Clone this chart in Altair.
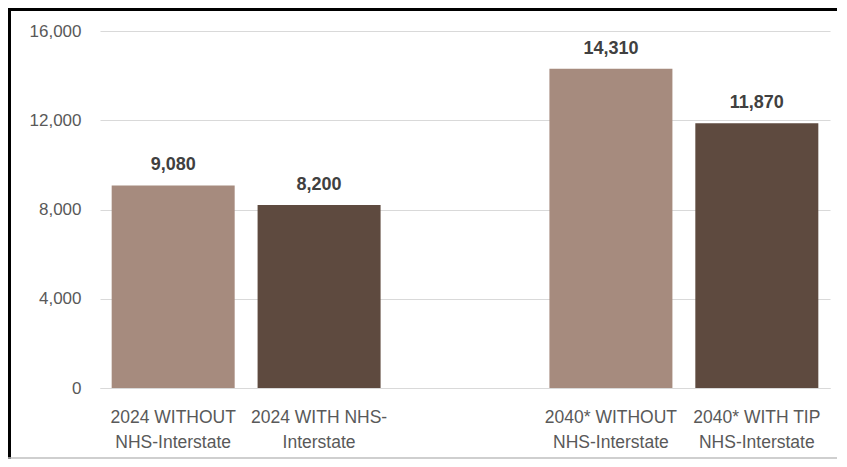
import altair as alt
import pandas as pd

categories = ["2024 WITHOUT|NHS-Interstate", "2024 WITH NHS-|Interstate",
              "2040* WITHOUT|NHS-Interstate", "2040* WITH TIP|NHS-Interstate"]
values = [9080, 8200, 14310, 11870]
shades = ["light", "dark", "light", "dark"]
x_domain = [categories[0], categories[1], " ", categories[2], categories[3]]
y_ticks = [0, 4000, 8000, 12000, 16000]

df = pd.DataFrame({"cat": categories, "value": values, "shade": shades})

x_enc = alt.X("cat:N", sort=None,
              scale=alt.Scale(domain=x_domain, paddingInner=0.157, paddingOuter=0.08),
              axis=alt.Axis(title=None, labelAngle=0, labelExpr="split(datum.label, '|')",
                            labelFont="Liberation Sans", labelFontSize=17.5, labelColor="#595959",
                            labelLineHeight=25, labelPadding=20, ticks=False,
                            domainColor="#D9D9D9", domainWidth=1, grid=False))

base = alt.Chart(df)

bars = base.mark_bar().encode(
    x=x_enc,
    y=alt.Y("value:Q", scale=alt.Scale(domain=[0, 16000]),
            axis=alt.Axis(title=None, values=y_ticks, format=",.0f", grid=True,
                          gridColor="#D9D9D9", domain=False, ticks=False,
                          labelFont="Liberation Sans", labelFontSize=17, labelColor="#595959",
                          labelPadding=19)),
    color=alt.Color("shade:N", scale=alt.Scale(domain=["light", "dark"],
                                                range=["#A68B7E", "#5E4A3F"]), legend=None),
)

text = base.mark_text(font="Liberation Sans", fontSize=18, fontWeight="bold",
                      color="#404040", baseline="alphabetic", dy=-15).encode(
    x=alt.X("cat:N", sort=None, scale=alt.Scale(domain=x_domain)),
    y="value:Q",
    text=alt.Text("value:Q", format=",.0f"),
)

bd = alt.Chart(pd.DataFrame({"a": [0]}))
left_border = bd.mark_rule(color="black", strokeWidth=3).encode(
    x=alt.value(-90.5), x2=alt.value(-90.5), y=alt.value(-22), y2=alt.value(428))
top_border = bd.mark_rule(color="black", strokeWidth=3).encode(
    x=alt.value(-92), x2=alt.value(737), y=alt.value(-21.5), y2=alt.value(-21.5))
bottom_border = bd.mark_rule(color="#BFBFBF", strokeWidth=1.5).encode(
    x=alt.value(-92), x2=alt.value(737), y=alt.value(427), y2=alt.value(427))

chart = alt.layer(bars, text, left_border, top_border, bottom_border).properties(
    width=730, height=357,
    autosize=alt.AutoSizeParams(type="none"),
    padding={"left": 92, "top": 23, "right": 9, "bottom": 71},
).configure_view(stroke=None)

chart.save("out.html", embed_options={"renderer": "svg", "actions": False})
